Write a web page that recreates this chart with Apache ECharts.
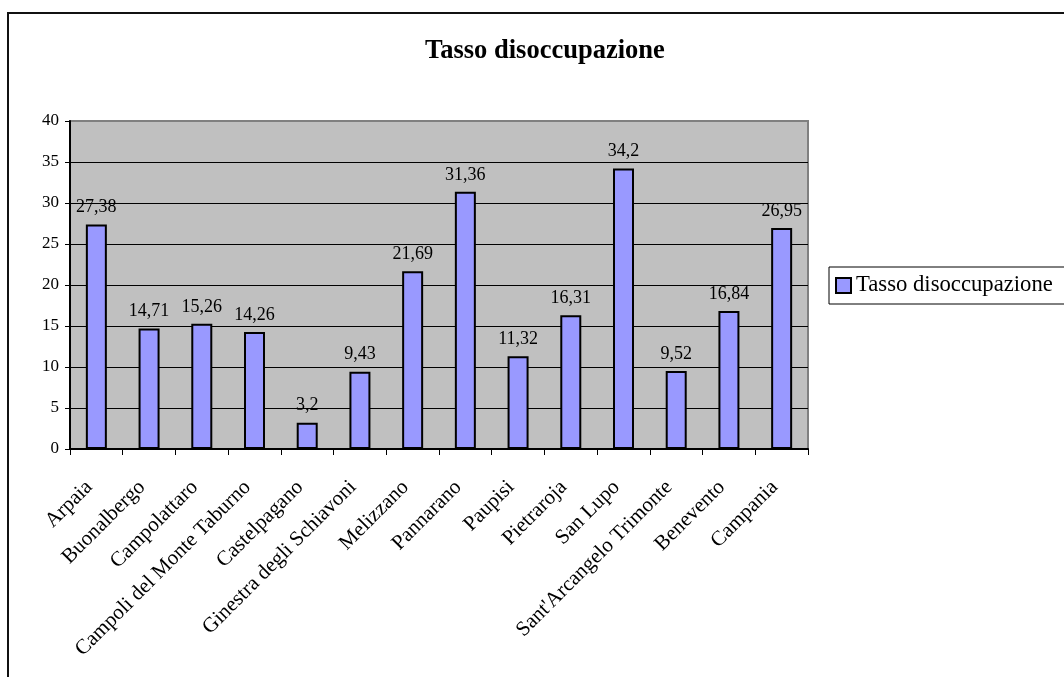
<!DOCTYPE html>
<html>
<head>
<meta charset="utf-8">
<script src="https://cdn.jsdelivr.net/npm/echarts@6/dist/echarts.min.js"></script>
<style>
  html, body { margin: 0; padding: 0; background: #fff; }
  #chart { width: 1064px; height: 677px; }
</style>
</head>
<body>
<div id="chart"></div>
<script>
const comuni = [
  "Arpaia", "Buonalbergo", "Campolattaro", "Campoli del Monte Taburno",
  "Castelpagano", "Ginestra degli Schiavoni", "Melizzano", "Pannarano",
  "Paupisi", "Pietraroja", "San Lupo", "Sant'Arcangelo Trimonte",
  "Benevento", "Campania"
];
const tasso = [27.38, 14.71, 15.26, 14.26, 3.2, 9.43, 21.69, 31.36, 11.32, 16.31, 34.2, 9.52, 16.84, 26.95];

const serif = "'Liberation Serif', 'Times New Roman', serif";

let myChart = echarts.init(document.getElementById("chart"));

let option = {
  animation: false,
  textStyle: { fontFamily: serif, color: "#000" },
  title: {
    text: "Tasso disoccupazione",
    left: 420,
    top: 33,
    textStyle: { fontFamily: serif, fontSize: 26.5, fontWeight: "bold", color: "#000" },
  },
  legend: {
    left: 829,
    top: 267,
    orient: "vertical",
    padding: [7, 14, 7, 6],
    borderColor: "#000",
    borderWidth: 1,
    backgroundColor: "#fff",
    itemWidth: 15,
    itemHeight: 15,
    icon: "rect",
    itemStyle: { borderColor: "#000", borderWidth: 2 },
    textStyle: { fontFamily: serif, fontSize: 22.7, color: "#000", padding: [2, 0, 0, 0] },
    data: ["Tasso disoccupazione"],
  },
  graphic: [
    {
      type: "rect",
      shape: { x: 8, y: 13, width: 1200, height: 800 },
      style: { fill: "none", stroke: "#111", lineWidth: 2 },
      silent: true,
    },
  ],
  grid: {
    left: 70,
    right: 256,
    top: 121,
    bottom: 228,
    show: true,
    backgroundColor: "#c0c0c0",
    borderColor: "#808080",
    borderWidth: 2,
  },
  xAxis: {
    type: "category",
    data: comuni,
    axisLine: { lineStyle: { color: "#000", width: 2 } },
    axisTick: { show: true, length: 6, lineStyle: { color: "#000" } },
    axisLabel: {
      interval: 0,
      rotate: 45,
      margin: 28,
      padding: [0, 10, 0, 0],
      fontFamily: serif,
      fontSize: 21,
      color: "#000",
    },
  },
  yAxis: {
    type: "value",
    min: 0,
    max: 40,
    interval: 5,
    axisLine: { show: true, lineStyle: { color: "#000", width: 2 } },
    axisTick: { show: true, length: 5, lineStyle: { color: "#000" } },
    axisLabel: { margin: 11, fontFamily: serif, fontSize: 17, color: "#000" },
    splitLine: {
      show: true,
      lineStyle: {
        color: ["#000", "#000", "#000", "#000", "#000", "#000", "#000", "#000", "#808080"],
        width: 1,
      },
    },
  },
  series: [
    {
      name: "Tasso disoccupazione",
      type: "bar",
      data: tasso,
      barWidth: 21,
      itemStyle: { color: "#9999ff", borderColor: "#000", borderWidth: 2 },
      label: {
        show: true,
        position: "top",
        distance: 8,
        fontFamily: serif,
        fontSize: 18,
        color: "#000",
        formatter: function (p) {
          return String(p.value).replace(".", ",");
        },
      },
    },
  ],
};
myChart.setOption(option);
</script>
</body>
</html>
